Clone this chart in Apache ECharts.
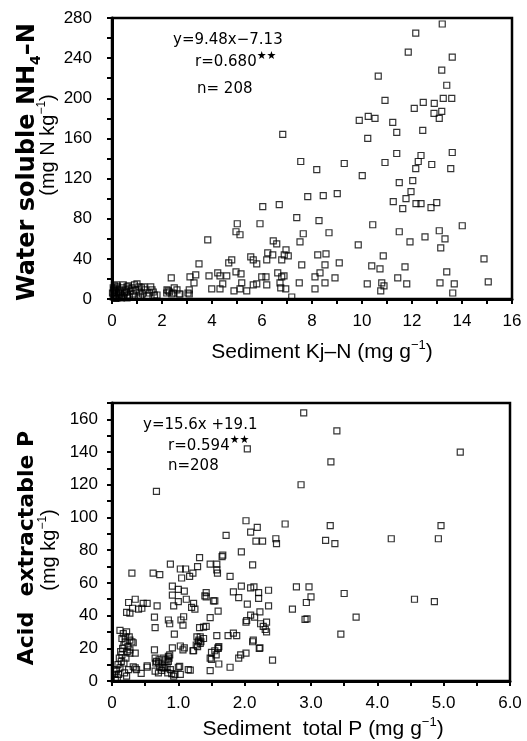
<!DOCTYPE html>
<html><head><meta charset="utf-8">
<script src="https://cdn.jsdelivr.net/npm/echarts/dist/echarts.min.js"></script>
<style>html,body{margin:0;padding:0;background:#fff}#c{width:527px;height:741px}</style>
</head><body><div id="c"></div>
<script>
// ---- Top panel: Sediment Kj-N (mg g-1) vs water soluble NH4-N (mg N kg-1)
const kjnNh4 = [
[13.21,274],[12.15,265],[11.85,246],[13.61,241],[13.19,228],[10.65,222],[13.39,213],[10.92,198],[13.25,200],[13.59,200],
[12.45,196],[12.89,195],[12.09,190],[13.19,187],[12.88,185],[13.09,180],[9.89,178],[10.25,182],[10.52,180],[11.23,176],
[6.83,164],[11.39,166],[12.43,168],[10.23,160],[11.39,145],[12.36,143],[13.61,146],
[7.55,137],[8.19,129],[9.29,135],[10.01,123],[10.92,136],[12.25,137],[12.15,130],[12.79,134],[13.55,130],[12.03,118],
[11.49,116],[11.96,107],[11.76,100],[11.25,97],[11.63,90],[12.16,95],[12.36,95],[12.76,91],[12.99,96],[7.83,102],
[8.45,103],[9.01,105],[6.03,92],[6.69,94],[7.39,81],[8.28,78],[5.01,75],[5.92,75],[10.43,74],[14.01,73],[4.96,67],
[5.12,64],[7.65,65],[8.68,66],[11.49,67],[13.09,68],[12.52,62],[3.83,59],[6.45,58],[6.59,55],[7.52,57],[11.92,57],
[13.32,60],[9.85,54],[13.15,51],[14.88,40],[3.48,35],[4.67,36],[4.79,39],[5.55,42],[5.65,39],[5.79,35],[6.23,46],
[6.43,44],[6.19,39],[6.79,39],[6.96,49],[7.05,43],[6.89,44],[8.23,44],[8.56,45],[7.59,34],[8.52,34],[9.09,36],
[10.85,43],[10.39,33],[10.72,30],[11.72,32],[13.39,27],[2.37,21],[3.12,22],[3.35,24],[3.88,23],[4.23,26],[4.32,23],
[4.59,23],[4.96,27],[5.16,25],[5.19,16],[4.88,8],[5.12,10],[5.39,8],[5.65,14],[5.79,15],[5.99,22],[6.16,22],[6.19,14],
[6.63,26],[6.79,22],[6.88,23],[6.72,16],[6.75,11],[6.95,10],[7.19,2],[7.49,16],[8.12,22],[8.32,26],[8.52,16],[8.12,10],
[8.92,21],[10.21,15],[10.79,16],[10.88,13],[10.75,8],[11.43,21],[11.79,15],[13.12,16],[13.69,15],[13.63,6],[15.05,17],
[3.99,10],[4.32,10],[4.43,15],[2.49,11],[2.19,6],[2.25,8],[2.39,5],[2.69,5],[3.09,9],[3.09,5],[3.28,16]
];
const kjnNh4Low = [
[0.05,2],[0.08,5],[0.1,8],[0.12,3],[0.15,10],[0.18,6],[0.2,1],[0.22,12],[0.25,4],[0.28,9],[0.3,2],[0.05,11],[0.1,13],
[0.15,0.5],[0.35,7],[0.4,11],[0.42,3],[0.45,14],[0.5,6],[0.55,9],[0.6,12],[0.62,4],[0.65,13],[0.7,2],[0.75,8],[0.8,11],
[0.85,5],[0.9,14],[0.95,9],[1.0,15],[1.05,3],[1.08,12],[1.12,7],[1.18,11],[1.22,5],[1.28,12],[1.32,9],[1.4,3],[1.5,6],
[1.6,9],[1.65,7],[1.7,4],[1.8,4],[1.55,12],[2.2,9],[2.3,7],[2.45,6],[2.6,9],[2.72,5],[3.04,6],[0.02,6],[0.07,9],
[0.12,1],[0.18,14],[0.32,5],[0.38,1],[0.48,2],[0.58,7],[0.68,10],[0.88,2],[1.15,2],[0.25,7],[0.6,1]
];
// ---- Bottom panel: Sediment total P (mg g-1) vs acid extractable P (mg kg-1)
const totPAcidP = [
[2.89,164],[3.39,153],[2.04,142],[5.25,140],[3.30,134],[2.85,120],[0.67,116],[2.02,98],[2.61,96],[3.29,95],[4.96,95],
[2.19,94],[2.09,91],[1.72,89],[2.17,85.5],[2.27,85.5],[2.47,87],[2.48,84],[3.22,86],[3.36,84],[4.21,87],[4.92,87],
[1.95,79],[1.32,75.5],[1.66,76],[1.67,77],[0.88,71.5],[1.48,71.5],[1.58,71.5],[1.58,68],[1.59,66],[1.29,70],[2.12,71],
[1.03,68.5],[1.11,68.5],[1.22,66],[1.17,64],[1.05,63],[0.30,66],[0.62,66],[0.72,65],[1.78,64],
[0.91,58],[1.0,56],[1.09,55],[0.91,52.5],[1.95,58],[2.09,57],[2.14,57.5],[1.83,54.5],[1.91,51],[2.21,54],[2.21,50.5],
[2.36,55.5],[2.78,57.5],[2.97,57.5],[3.0,51.5],[2.93,48],[3.50,53.5],[4.56,50],[4.86,48.5],[1.42,54],[1.42,51.5],
[1.55,49],[1.12,50],[1.0,48.5],[0.93,46],[1.23,47.5],[1.2,45],[0.68,46],[0.47,47.5],[0.53,47.5],[0.45,44.5],[0.31,44.5],
[0.27,41.5],[2.04,47],[2.36,46],[2.23,42.3],[1.60,42.7],[1.48,38.7],[2.72,44],[2.09,40.3],[2.15,39],[2.02,36],[2.03,37],
[2.24,35],[2.28,33.4],[2.33,36],[2.31,31.5],[2.33,30],[2.91,37.7],[2.94,38],[3.68,39],[3.45,28.7],
[0.64,39],[1.08,39.3],[1.04,37.3],[0.85,37.3],[0.87,35],[1.07,34.2],[0.65,32.6],[1.32,32.6],[1.38,33],[1.42,33.4],
[0.94,28.7],[1.28,27],[1.33,27],[1.31,25],[1.58,27.7],[1.75,27.7],[1.83,29.3],[1.88,27.7],[2.13,25],[2.23,20.3],
[0.91,20.3],[1.03,21.4],[1.09,20.3],[1.29,21],[1.6,20.3],[0.64,19],[0.27,25],[0.32,23.4],[0.27,19],
[0.3,24],[0.27,17],[0.35,17],[0.32,8.7],[0.37,7],[0.44,4.7],[0.53,9.2],[0.65,14],[0.67,12],[0.7,11],
[0.65,6],[0.7,5],[0.75,6.5],[0.78,8],[0.72,8.5],[0.76,8.5],[0.8,8],[0.83,8.5],[0.88,7],
[0.83,13],[0.85,15],[0.87,16],[0.86,14],[0.85,12],[0.8,13],[0.77,14],
[0.95,4],[0.93,3],[1.0,8.4],[1.15,7],[1.18,6.7],[1.23,18.5],[1.34,24],[1.33,23],
[1.48,14],[1.5,17.5],[1.55,18.5],[1.6,20],[1.61,21],[1.48,6.3],[1.61,10.4],[1.78,8.4],[1.91,14],[1.94,16],[2.02,17],
[2.22,20],[2.42,12.8],[2.12,24],[1.40,52],[1.53,49],[1.25,44],[1.27,22],[1.3,24],[1.38,26],[1.07,19],[1.22,18.5],
[1.57,16],[1.5,13.2],[0.66,11],[0.71,13],[0.84,5],[0.9,4.5],[1.03,4],[1.02,9],[0.53,8.4],[0.35,8],[0.22,42],[0.25,48],
[0.4,44],[0.35,50]
];
const totPAcidPLow = [
[0.08,2],[0.1,4],[0.06,6],[0.12,8],[0.09,10],[0.14,12],[0.11,14],[0.15,16],[0.13,18],[0.16,20],[0.18,22],[0.2,24],
[0.15,26],[0.2,27],[0.17,29],[0.22,30],[0.12,31],[0.05,1],[0.04,4],[0.07,7],[0.19,5],[0.22,3],[0.25,7],[0.18,11],
[0.21,14],[0.23,18],[0.24,21],[0.26,27]
];
// axis ranges: [min, max, label interval, minor splits]
const topX = [0, 16, 2, 2];
const topY = [0, 280, 40, 2];
const botX = [0, 6, 1, 2];
const botY = [0, 170, 20, 2];

const F = '"Liberation Sans", Arial, sans-serif';
const FD = '"DejaVu Sans", sans-serif';

function mkAxis(gi, r, margin, fmt, extra) {
  return Object.assign({
    gridIndex: gi, type: 'value', min: r[0], max: r[1], interval: r[2],
    axisLine: { show: true, onZero: false, lineStyle: { color: '#000', width: 3 } },
    axisTick: { show: true, inside: false, length: 5, lineStyle: { color: '#000', width: 2 } },
    minorTick: { show: true, splitNumber: r[3], length: 5, lineStyle: { color: '#000', width: 2 } },
    splitLine: { show: false }, minorSplitLine: { show: false },
    axisLabel: { margin: margin, color: '#000', fontFamily: F, fontSize: 17, formatter: fmt }
  }, extra || {});
}

const scatterStyle = { color: 'rgba(255,255,255,0)', borderColor: '#000', borderWidth: 1.2 };

const chart = echarts.init(document.getElementById('c'), null, { renderer: 'canvas' });
chart.setOption({
  animation: false,
  backgroundColor: '#fff',
  grid: [
    { left: 112, top: 18, width: 400, height: 281, show: true, borderColor: '#000', borderWidth: 2.5 },
    { left: 112, top: 403, width: 398, height: 278, show: true, borderColor: '#000', borderWidth: 2.5 }
  ],
  xAxis: [
    mkAxis(0, topX, 14, v => String(v)),
    mkAxis(1, botX, 14, v => v === 0 ? '0' : v.toFixed(1))
  ],
  yAxis: [
    mkAxis(0, topY, 20, v => String(v)),
    mkAxis(1, botY, 14, v => String(v), {})
  ],
  series: [
    { type: 'scatter', xAxisIndex: 0, yAxisIndex: 0, symbol: 'rect', symbolSize: 6, clip: false,
      itemStyle: scatterStyle, data: kjnNh4.concat(kjnNh4Low) },
    { type: 'scatter', xAxisIndex: 1, yAxisIndex: 1, symbol: 'rect', symbolSize: 6, clip: false,
      itemStyle: scatterStyle, data: totPAcidP.concat(totPAcidPLow) }
  ],
  graphic: [
    // x titles
    { type: 'text', x: 322, y: 352, style: { text: 'Sediment Kj\u2013N (mg g{s|\u22121})', align: 'center', verticalAlign: 'middle',
      font: '21px ' + F, fill: '#000', lineHeight: 26, rich: { s: { fontSize: 13, fontFamily: F, verticalAlign: 'top', lineHeight: 26 } } } },
    { type: 'text', x: 323, y: 729, style: { text: 'Sediment  total P (mg g{s|\u22121})', align: 'center', verticalAlign: 'middle',
      font: '21px ' + F, fill: '#000', lineHeight: 26, rich: { s: { fontSize: 13, fontFamily: F, verticalAlign: 'top', lineHeight: 26 } } } },
    // y titles
    { type: 'text', x: 28, y: 162, rotation: Math.PI / 2, style: { text: 'Water soluble NH{b|4}\u2013N', align: 'center', verticalAlign: 'middle',
      font: 'bold 24px ' + FD, fill: '#000', lineHeight: 30, rich: { b: { fontSize: 14, fontWeight: 'bold', fontFamily: FD, verticalAlign: 'bottom', lineHeight: 30 } } } },
    { type: 'text', x: 48, y: 145, rotation: Math.PI / 2, style: { text: '(mg N kg{s|\u22121})', align: 'center', verticalAlign: 'middle',
      font: '20px ' + F, fill: '#000', lineHeight: 24, rich: { s: { fontSize: 12, fontFamily: F, verticalAlign: 'top', lineHeight: 24 } } } },
    { type: 'text', x: 27, y: 548, rotation: Math.PI / 2, style: { text: 'Acid  extractable P', align: 'center', verticalAlign: 'middle',
      font: 'bold 22px ' + FD, fill: '#000' } },
    { type: 'text', x: 49, y: 550, rotation: Math.PI / 2, style: { text: '(mg kg{s|\u22121})', align: 'center', verticalAlign: 'middle',
      font: '20px ' + F, fill: '#000', lineHeight: 24, rich: { s: { fontSize: 12, fontFamily: F, verticalAlign: 'top', lineHeight: 24 } } } },
    // regression annotations (top)
    { type: 'text', x: 173, y: 40, style: { text: 'y=9.48x\u22127.13', align: 'left', verticalAlign: 'middle', font: '15px ' + FD, fill: '#000' } },
    { type: 'text', x: 195, y: 62, style: { text: 'r=0.680{s|\u2605\u2605}', align: 'left', verticalAlign: 'middle', font: '15px ' + FD, fill: '#000',
      lineHeight: 22, rich: { s: { fontSize: 11, fontFamily: FD, verticalAlign: 'top', lineHeight: 22 } } } },
    { type: 'text', x: 197, y: 89, style: { text: 'n= 208', align: 'left', verticalAlign: 'middle', font: '15px ' + FD, fill: '#000' } },
    // regression annotations (bottom)
    { type: 'text', x: 143, y: 425, style: { text: 'y=15.6x +19.1', align: 'left', verticalAlign: 'middle', font: '15px ' + FD, fill: '#000' } },
    { type: 'text', x: 168, y: 446, style: { text: 'r=0.594{s|\u2605\u2605}', align: 'left', verticalAlign: 'middle', font: '15px ' + FD, fill: '#000',
      lineHeight: 22, rich: { s: { fontSize: 11, fontFamily: FD, verticalAlign: 'top', lineHeight: 22 } } } },
    { type: 'text', x: 168, y: 466, style: { text: 'n=208', align: 'left', verticalAlign: 'middle', font: '15px ' + FD, fill: '#000' } }
  ]
});
</script>
</body></html>
